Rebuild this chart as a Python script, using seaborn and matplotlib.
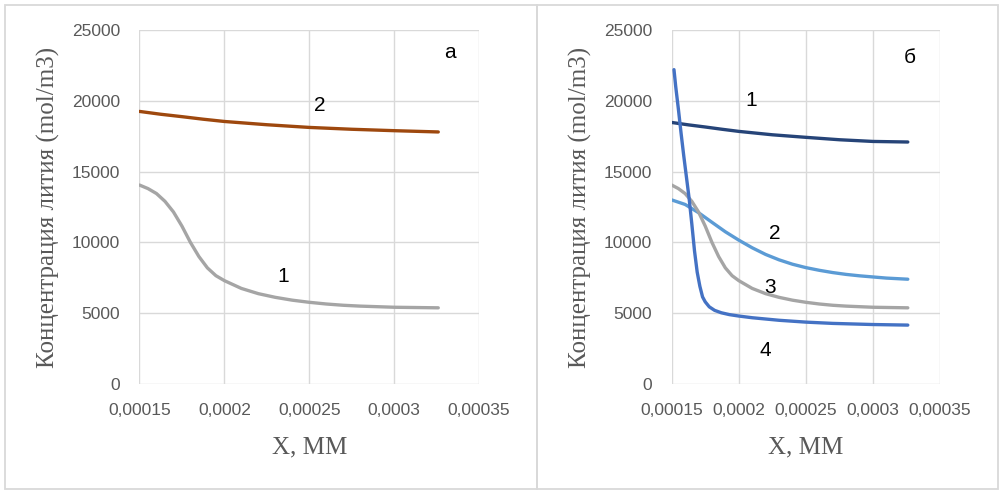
import matplotlib
matplotlib.use("Agg")
import matplotlib.pyplot as plt
from matplotlib.patches import Rectangle
import seaborn as sns

# x positions (mm) and concentrations (mol/m3)
x_flat = [0.00015, 0.0001625, 0.000175, 0.0001875, 0.0002, 0.000225, 0.00025,
          0.000275, 0.0003, 0.000326]
brown_a2 = [19250, 19050, 18880, 18700, 18540, 18310, 18120, 17990, 17890, 17800]
navy_b1 = [18470, 18300, 18150, 17990, 17840, 17600, 17420, 17250, 17130, 17090]

x_gray = [0.00015, 0.000155, 0.00016, 0.000165, 0.00017, 0.000175, 0.00018,
          0.000185, 0.00019, 0.000195, 0.0002, 0.00021, 0.00022, 0.00023,
          0.00024, 0.00025, 0.00026, 0.00027, 0.00028, 0.0003, 0.000326]
gray_curve = [14050, 13800, 13450, 12900, 12150, 11150, 10000,
              9000, 8200, 7650, 7300, 6750, 6380, 6120,
              5920, 5770, 5650, 5560, 5500, 5420, 5380]

x_light = [0.00015, 0.00016, 0.00017, 0.00018, 0.00019, 0.0002, 0.00021, 0.00022,
           0.00023, 0.00024, 0.00025, 0.00026, 0.00027, 0.00028, 0.00029, 0.0003,
           0.00031, 0.000326]
light_b2 = [13000, 12680, 12100, 11420, 10750, 10160, 9620, 9150,
            8770, 8460, 8220, 8030, 7870, 7740, 7640, 7560,
            7480, 7400]

x_blue = [0.0001517, 0.000153, 0.000155, 0.000157, 0.000159, 0.000161, 0.000163,
          0.000165, 0.000167, 0.000169, 0.000171, 0.000173, 0.000175, 0.000178,
          0.000182, 0.000187, 0.000193, 0.0002, 0.00021, 0.00022, 0.00023,
          0.00025, 0.00027, 0.0003, 0.000326]
blue_b4 = [22200, 21000, 19400, 17700, 16100, 14600, 13100,
           11300, 9400, 7900, 6900, 6150, 5800, 5450,
           5200, 5030, 4900, 4800, 4680, 4590, 4500,
           4370, 4280, 4200, 4160]

x_ticks = [0.00015, 0.0002, 0.00025, 0.0003, 0.00035]
x_tick_labels = ["0,00015", "0,0002", "0,00025", "0,0003", "0,00035"]
y_ticks = [0, 5000, 10000, 15000, 20000, 25000]
y_tick_labels = ["0", "5000", "10000", "15000", "20000", "25000"]

sns.set_style("whitegrid", {"grid.color": "#d9d9d9"})
plt.rcParams["font.family"] = ["Liberation Sans", "DejaVu Sans"]

fig = plt.figure(figsize=(10.03, 4.97), dpi=100)

# panel frames
for x0, x1 in [(5, 537), (537, 998)]:
    fig.patches.append(Rectangle((x0 / 1003, (497 - 488.5) / 497), (x1 - x0) / 1003,
                                 (488.5 - 5) / 497, transform=fig.transFigure,
                                 fill=False, edgecolor="#d9d9d9", linewidth=1.3))

ax1 = fig.add_axes([139.5 / 1003, 113 / 497, 339.5 / 1003, 354 / 497])
ax2 = fig.add_axes([671.7 / 1003, 113 / 497, 268.3 / 1003, 354 / 497])

lw = 2.4
sns.lineplot(x=x_flat, y=brown_a2, ax=ax1, color="#9E480E", lw=lw)
sns.lineplot(x=x_gray, y=gray_curve, ax=ax1, color="#A5A5A5", lw=lw)

sns.lineplot(x=x_flat, y=navy_b1, ax=ax2, color="#264478", lw=lw)
sns.lineplot(x=x_light, y=light_b2, ax=ax2, color="#5B9BD5", lw=lw)
sns.lineplot(x=x_gray, y=gray_curve, ax=ax2, color="#A5A5A5", lw=lw)
sns.lineplot(x=x_blue, y=blue_b4, ax=ax2, color="#4472C4", lw=lw)

for ax, ylab_x in [(ax1, -0.233), (ax2, -0.298)]:
    ax.set_xlim(0.00015, 0.00035)
    ax.set_ylim(0, 25000)
    ax.set_xticks(x_ticks, labels=x_tick_labels)
    ax.set_yticks(y_ticks, labels=y_tick_labels)
    ax.tick_params(length=0, labelsize=12.5, labelcolor="#595959", pad=14)
    ax.grid(True, color="#d9d9d9", lw=1.0)
    sns.despine(ax=ax, left=True, bottom=True)
    ax.set_xlabel("X, ММ", family="Liberation Serif", fontsize=18, color="#595959")
    ax.set_ylabel("Концентрация лития (mol/m3)", family="Liberation Serif",
                  fontsize=18, color="#595959")
    ax.xaxis.set_label_coords(0.5, -0.149)
    ax.yaxis.set_label_coords(ylab_x, 0.5)

txt = dict(fontsize=15, color="black", ha="center", va="baseline")
ax1.text(0.0002563, 19280, "2", **txt)
ax1.text(0.0002347, 7225, "1", **txt)
ax1.text(0.0003326, 23000, "а", **txt)

ax2.text(0.0002096, 19630, "1", **txt)
ax2.text(0.0002265, 10220, "2", **txt)
ax2.text(0.0002233, 6405, "3", **txt)
ax2.text(0.00022, 1977, "4", **txt)
ax2.text(0.0003276, 22650, "б", **txt)

fig.savefig("out.png", dpi=100)
